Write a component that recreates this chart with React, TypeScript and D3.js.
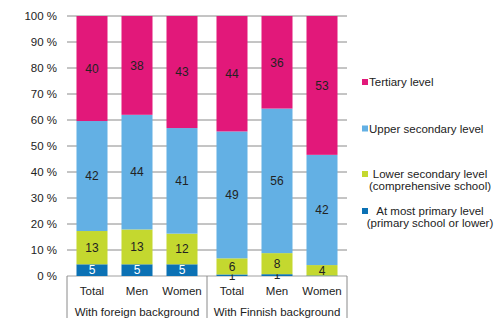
import React from "react";
import * as d3 from "d3";

const groups = ["With foreign background", "With Finnish background"];
const subCategories = ["Total", "Men", "Women"];
const seriesNames = [
  "At most primary level",
  "Lower secondary level",
  "Upper secondary level",
  "Tertiary level",
];
const legendLabels = [
  ["Tertiary level"],
  ["Upper secondary level"],
  ["Lower secondary level", "(comprehensive school)"],
  ["At most primary level", "(primary school or lower)"],
];
// values per bar: order foreign Total, Men, Women, Finnish Total, Men, Women
const primaryValues = [4.5, 4.5, 4.5, 0.6, 0.7, 0.2];
const lowerSecondaryValues = [12.8, 13.4, 11.8, 6.2, 8.1, 4.0];
const upperSecondaryValues = [42.3, 44.1, 40.6, 48.8, 55.6, 42.4];
const tertiaryValues = [40.4, 38.0, 43.1, 44.4, 35.6, 53.4];
const yTicks = [0, 10, 20, 30, 40, 50, 60, 70, 80, 90, 100];

const colors = ["#0b71b4", "#c4d82f", "#63b0e4", "#e2187a"];
const legendColors = ["#e2187a", "#63b0e4", "#c4d82f", "#0b71b4"];

const W = 500;
const H = 330;
const left = 67;
const right = 347;
const top = 16;
const bottom = 276;
const font = "'Liberation Sans', Arial, sans-serif";

export default function App() {
  const y = d3.scaleLinear().domain([0, 100]).range([bottom, top]);
  const xGroup = d3.scaleBand<string>().domain(groups).range([left, right]).padding(0);
  const xSub = d3
    .scaleBand<string>()
    .domain(subCategories)
    .range([0, xGroup.bandwidth()])
    .paddingInner(0.311)
    .paddingOuter(0.211);

  const bars = groups.flatMap((g, gi) =>
    subCategories.map((s, si) => {
      const i = gi * 3 + si;
      return {
        g,
        s,
        vals: [primaryValues[i], lowerSecondaryValues[i], upperSecondaryValues[i], tertiaryValues[i]],
      };
    })
  );
  const stack = d3
    .stack<any>()
    .keys([0, 1, 2, 3] as any)
    .value((d: any, k: any) => d.vals[k]);
  const stacked = stack(bars as any);

  const dividers = [left, ...groups.map((g) => (xGroup(g) as number) + xGroup.bandwidth())];

  const legendY = [82, 128.5, 174, 211];

  return (
    <svg
      width={W}
      height={H}
      style={{ position: "absolute", left: 0, top: 0, background: "#fff" }}
      fontFamily={font}
    >
      {yTicks.map((t) => (
        <g key={t}>
          <line x1={left} x2={right} y1={y(t)} y2={y(t)} stroke={t === 0 ? "#a0a0a0" : "#8a8a8a"} strokeWidth={1} />
          <text x={57} y={y(t)} dy="0.35em" textAnchor="end" fontSize={11.5} fill="#222">
            {t} %
          </text>
        </g>
      ))}
      {stacked.map((layer, li) => (
        <g key={li}>
          {layer.map((d: any, bi) => {
            const b = bars[bi];
            const x = (xGroup(b.g) as number) + (xSub(b.s) as number);
            const y0 = y(d[0]);
            const y1 = y(d[1]);
            const v = b.vals[li];
            const lbl = Math.round(v);
            const h = y0 - y1;
            return (
              <g key={bi}>
                <rect x={x} y={y1} width={xSub.bandwidth()} height={h} fill={colors[li]} />
                {lbl >= 1 && (
                  <text
                    x={x + xSub.bandwidth() / 2}
                    y={(y0 + y1) / 2}
                    dy="0.36em"
                    textAnchor="middle"
                    fontSize={12}
                    fill={li === 0 && h > 8 ? "#fff" : "#222"}
                  >
                    {lbl}
                  </text>
                )}
              </g>
            );
          })}
        </g>
      ))}
      {dividers.map((x, i) => (
        <line key={i} x1={x} x2={x} y1={bottom} y2={318} stroke="#8a8a8a" strokeWidth={1} />
      ))}
      {bars.map((b, i) => (
        <text
          key={i}
          x={(xGroup(b.g) as number) + (xSub(b.s) as number) + xSub.bandwidth() / 2}
          y={291}
          dy="0.35em"
          textAnchor="middle"
          fontSize={11.5}
          fill="#222"
        >
          {b.s}
        </text>
      ))}
      {groups.map((g) => (
        <text
          key={g}
          x={(xGroup(g) as number) + xGroup.bandwidth() / 2}
          y={312}
          dy="0.35em"
          textAnchor="middle"
          fontSize={11.5}
          fill="#222"
        >
          {g}
        </text>
      ))}
      {legendLabels.map((lines, i) => (
        <g key={i}>
          <rect x={362} y={legendY[i] - 3} width={6} height={6} fill={legendColors[i]} />
          {lines.length === 1 ? (
            <text x={369} y={legendY[i]} dy="0.35em" fontSize={11.5} fill="#222">
              {lines[0]}
            </text>
          ) : (
            lines.map((ln, j) => (
              <text
                key={j}
                x={430}
                y={legendY[i] + j * 11.7}
                dy="0.35em"
                textAnchor="middle"
                fontSize={11.5}
                fill="#222"
              >
                {ln}
              </text>
            ))
          )}
        </g>
      ))}
    </svg>
  );
}
